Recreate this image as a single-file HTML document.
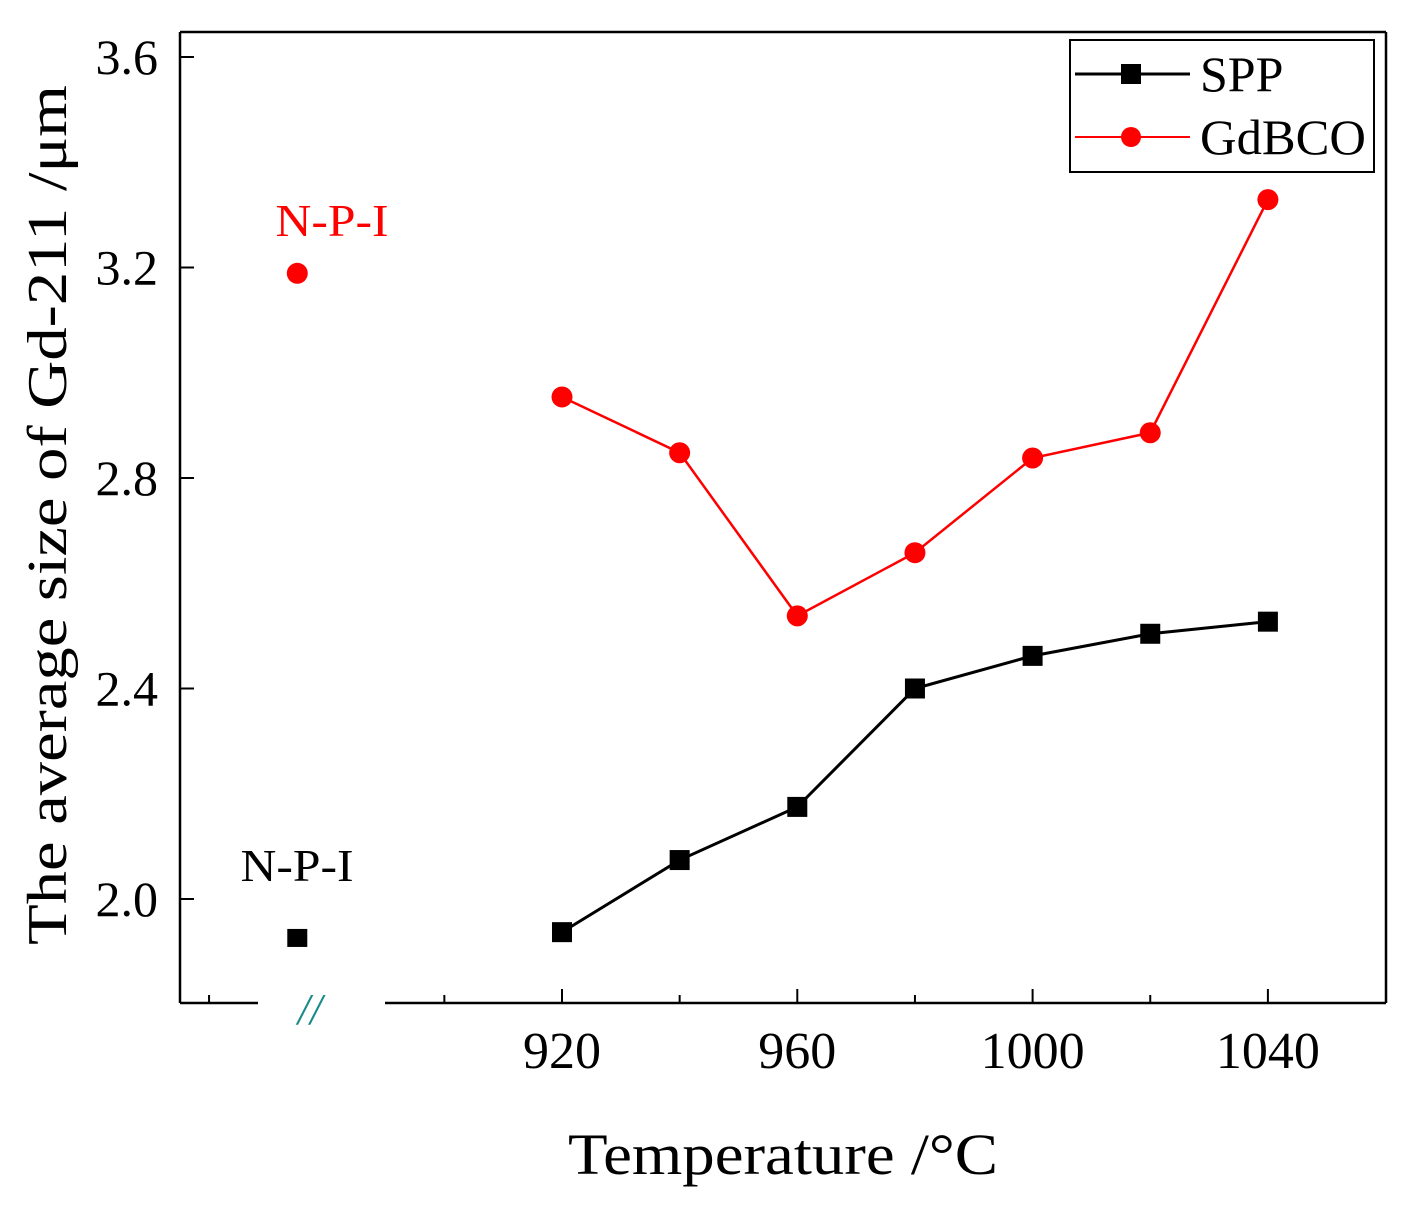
<!DOCTYPE html>
<html><head><meta charset="utf-8"><style>
body{margin:0;background:#fff}
svg text{font-family:"Liberation Serif",serif}
</style></head><body>
<svg id="chart" width="1411" height="1207" viewBox="0 0 1411 1207" xmlns="http://www.w3.org/2000/svg">
<g id="axes"></g>
<g id="marks"></g>
<text transform="translate(66,515) rotate(-90)" text-anchor="middle" font-size="56" textLength="860" lengthAdjust="spacingAndGlyphs">The average  size  of Gd-211 /μm</text>
<text x="783" y="1174" text-anchor="middle" font-size="58" textLength="430" lengthAdjust="spacingAndGlyphs">Temperature /°C</text>
<g>
<rect x="1070" y="40" width="304" height="132" fill="#fff" stroke="#000" stroke-width="2"/>
<line x1="1075" y1="74" x2="1190" y2="74" stroke="#000" stroke-width="3"/>
<rect x="1121" y="64" width="20" height="20" fill="#000"/>
<text x="1200" y="91" font-size="50">SPP</text>
<line x1="1075" y1="137" x2="1190" y2="137" stroke="#f00" stroke-width="2"/>
<circle cx="1131" cy="137" r="10" fill="#f00"/>
<text x="1200" y="154" font-size="50" textLength="166" lengthAdjust="spacingAndGlyphs">GdBCO</text>
</g>
<text x="332" y="236" text-anchor="middle" font-size="46" fill="#f00" textLength="113" lengthAdjust="spacingAndGlyphs">N-P-I</text>
<text x="297" y="881" text-anchor="middle" font-size="46" textLength="113" lengthAdjust="spacingAndGlyphs">N-P-I</text>
<text x="310" y="1024" text-anchor="middle" font-size="44" fill="#1a8a8a" font-style="italic">//</text>
</svg>
<script>
const categories=[920,940,960,980,1000,1020,1040];
const sppValues=[1.937,2.074,2.175,2.40,2.462,2.504,2.527];
const gdbcoValues=[2.954,2.848,2.538,2.658,2.838,2.886,3.329];
const npiX=875;
const npiSpp=1.926;
const npiGdbco=3.189;
const yTicks=[2.0,2.4,2.8,3.2,3.6];
const xTickLabels=[920,960,1000,1040];
const xMinor=[860,900,940,980,1020];

const X=v=>562+(v-920)*235.3/40;
const Y=v=>899-(v-2.0)*526.25;
const NS="http://www.w3.org/2000/svg";
function mk(p,t,a){const e=document.createElementNS(NS,t);for(const k in a)e.setAttribute(k,a[k]);p.appendChild(e);return e;}
const ax=document.getElementById('axes'),mg=document.getElementById('marks');
const L=180,R=1386,T=32,B=1003;
let e;
e=mk(ax,'line',{x1:L,y1:T,x2:L,y2:B,stroke:'#000','stroke-width':2.5});

e=mk(ax,'line',{x1:R,y1:T,x2:R,y2:B,stroke:'#000','stroke-width':2.5});

e=mk(ax,'line',{x1:L,y1:T,x2:R,y2:T,stroke:'#000','stroke-width':2.5});

e=mk(ax,'line',{x1:L,y1:B,x2:258,y2:B,stroke:'#000','stroke-width':2.5});

e=mk(ax,'line',{x1:385,y1:B,x2:R,y2:B,stroke:'#000','stroke-width':2.5});

yTicks.forEach(v=>{
 e=mk(ax,'line',{x1:L,y1:Y(v),x2:L+14,y2:Y(v),stroke:'#000','stroke-width':2});
 
 e=mk(ax,'text',{x:158,y:Y(v)+17,'text-anchor':'end','font-size':50});
 e.textContent=v.toFixed(1);
 
});
xTickLabels.forEach(v=>{
 e=mk(ax,'line',{x1:X(v),y1:B,x2:X(v),y2:B-14,stroke:'#000','stroke-width':2});
 
 e=mk(ax,'text',{x:X(v),y:1068,'text-anchor':'middle','font-size':52});
 e.textContent=v;
 
});
xMinor.forEach(v=>{
 e=mk(ax,'line',{x1:X(v),y1:B,x2:X(v),y2:B-8,stroke:'#000','stroke-width':2});
 
});
function series(vals,color,sq,name){
 e=mk(mg,'polyline',{points:categories.map((c,i)=>X(c)+','+Y(vals[i])).join(' '),fill:'none',stroke:color,'stroke-width':sq?3:2.5});
 
 categories.forEach((c,i)=>{
  if(sq)e=mk(mg,'rect',{x:X(c)-10,y:Y(vals[i])-10,width:20,height:20,fill:color});
  else e=mk(mg,'circle',{cx:X(c),cy:Y(vals[i]),r:10.5,fill:color});
  
 });
}
series(gdbcoValues,'#f00',false,'gdbco');
series(sppValues,'#000',true,'spp');
e=mk(mg,'rect',{x:X(npiX)-10,y:Y(npiSpp)-9,width:20,height:18,fill:'#000'});

e=mk(mg,'circle',{cx:X(npiX),cy:Y(npiGdbco),r:10.5,fill:'#f00'});

</script>
</body></html>
